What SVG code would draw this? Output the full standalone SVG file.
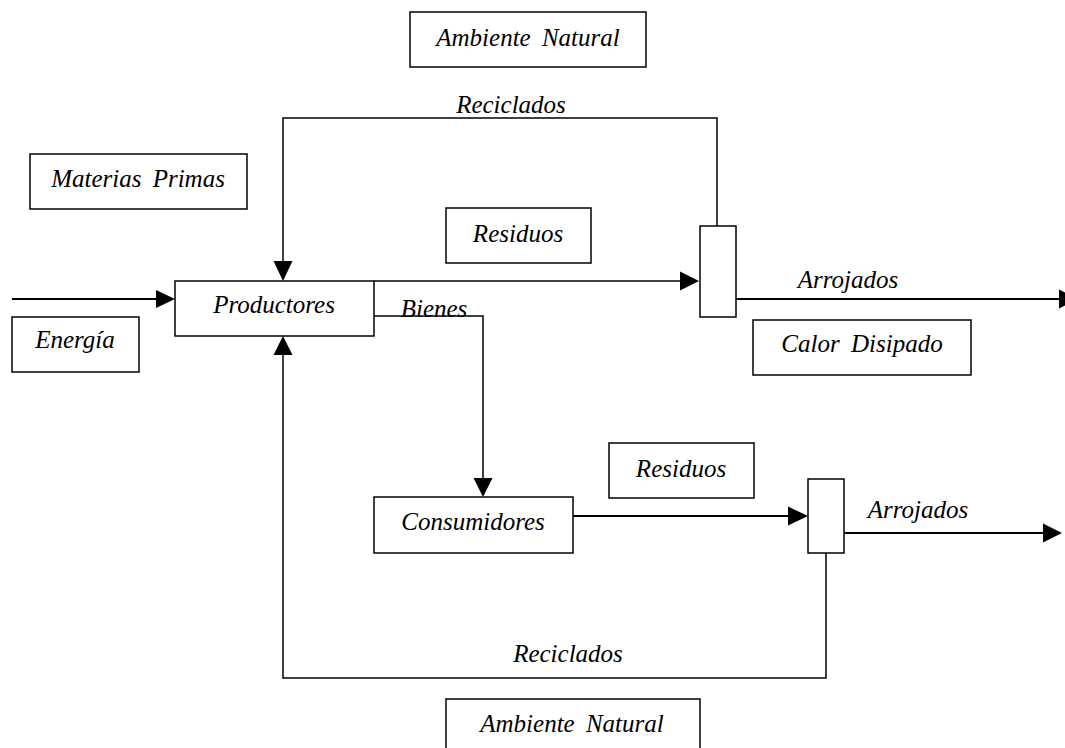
<svg xmlns="http://www.w3.org/2000/svg" width="1065" height="748" viewBox="0 0 1065 748">
<style>
.box{fill:#fff;stroke:#000;stroke-width:1.5}
.t{font-family:"Liberation Serif","Times New Roman",serif;font-style:italic;font-size:25px;fill:#000;text-anchor:middle}
.ln{fill:none;stroke:#000;stroke-width:1.5}
.lw{fill:none;stroke:#000;stroke-width:2}
.ah{fill:#000;stroke:none}
</style>
<rect width="1065" height="748" fill="#fff"/>
<g id="connectors">
<polyline class="ln" points="717,226 717,118 283,118 283,262"/>
<polygon class="ah" points="273.5,261 292.5,261 283,281"/>
<line class="ln" x1="374" y1="281" x2="681" y2="281"/>
<polygon class="ah" points="680,271.5 680,290.5 699,281"/>
<line class="lw" x1="12" y1="299" x2="157" y2="299"/>
<polygon class="ah" points="156,290 156,308 175,299"/>
<line class="lw" x1="736" y1="299" x2="1060" y2="299"/>
<polygon class="ah" points="1059,289.5 1059,308.5 1078,299"/>
<polyline class="ln" points="374,316 483,316 483,480"/>
<polygon class="ah" points="473.5,478 492.5,478 483,497"/>
<line class="lw" x1="573" y1="516" x2="790" y2="516"/>
<polygon class="ah" points="788,506.5 788,525.5 808,516"/>
<line class="lw" x1="844" y1="533" x2="1045" y2="533"/>
<polygon class="ah" points="1043,523.5 1043,542.5 1062,533"/>
<polyline class="ln" points="826,553 826,678 283,678 283,353"/>
<polygon class="ah" points="273.5,355 292.5,355 283,336"/>
<text class="t" x="511" y="113">Reciclados</text>
<text class="t" x="848" y="288">Arrojados</text>
<text class="t" x="434" y="317">Bienes</text>
<text class="t" x="918" y="518">Arrojados</text>
<text class="t" x="568" y="662">Reciclados</text>
</g>
<g id="ambiente-top"><rect class="box" x="410" y="12" width="236" height="55"/><text class="t" x="528" y="46" word-spacing="5">Ambiente Natural</text></g>
<g id="materias"><rect class="box" x="30" y="154" width="217" height="55"/><text class="t" x="138" y="187" word-spacing="5">Materias Primas</text></g>
<g id="residuos1"><rect class="box" x="446" y="208" width="145" height="55"/><text class="t" x="518" y="242">Residuos</text></g>
<g id="sep1"><rect class="box" x="700" y="226" width="36" height="91"/></g>
<g id="productores"><rect class="box" x="175" y="281" width="199" height="55"/><text class="t" x="274" y="313">Productores</text></g>
<g id="energia"><rect class="box" x="12" y="317" width="127" height="55"/><text class="t" x="75" y="348">Energía</text></g>
<g id="calor"><rect class="box" x="753" y="320" width="218" height="55"/><text class="t" x="862" y="352" word-spacing="5">Calor Disipado</text></g>
<g id="residuos2"><rect class="box" x="609" y="443" width="145" height="55"/><text class="t" x="681" y="477">Residuos</text></g>
<g id="sep2"><rect class="box" x="808" y="479" width="36" height="74"/></g>
<g id="consumidores"><rect class="box" x="374" y="497" width="199" height="56"/><text class="t" x="473" y="530">Consumidores</text></g>
<g id="ambiente-bottom"><rect class="box" x="446" y="699" width="254" height="60"/><text class="t" x="572" y="732" word-spacing="5">Ambiente Natural</text></g>
</svg>
